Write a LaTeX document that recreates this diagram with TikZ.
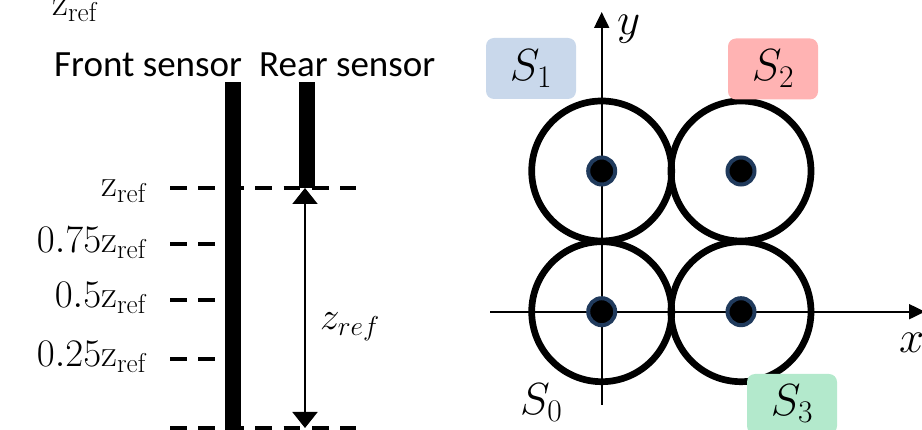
\RequirePackage{fix-cm}
\documentclass[tikz,border=0pt]{standalone}
\usepackage{fontspec}
\newfontfamily\calib{Carlito}
\usetikzlibrary{arrows.meta}
\definecolor{navy}{HTML}{203A5C}
\definecolor{sblue}{HTML}{C9D8EB}
\definecolor{sred}{HTML}{FFB3B3}
\definecolor{sgreen}{HTML}{B3E9CC}
\tikzset{
  lab/.style={font=\fontsize{39}{44}\selectfont, inner sep=0pt, anchor=base east},
  senslab/.style={font=\calib\fontsize{37}{42}\selectfont, inner sep=0pt, anchor=base west},
  biglab/.style={font=\fontsize{45}{50}\selectfont, inner sep=0pt},
  dashln/.style={line width=4.5pt, dash pattern=on 16.7pt off 11.7pt},
  axisln/.style={line width=2pt, -{Triangle[width=15pt,length=16pt]}},
  ring/.style={circle, draw=black, line width=6.7pt, minimum size=140pt, inner sep=0pt},
  sdot/.style={circle, fill=black, draw=navy, line width=4pt, minimum size=27pt, inner sep=0pt},
  sbox/.style={rounded corners=8pt, minimum width=90pt, minimum height=61pt, inner sep=0pt, font=\fontsize{45}{50}\selectfont},
  bar/.style={fill=black}
}
\begin{document}
\begin{tikzpicture}[x=1pt,y=-1pt]
\useasboundingbox (0,0) rectangle (922,430);
% left part: labels
\node[lab, anchor=base west] (ztop) at (52,16) {$\mathrm{z}_{\mathrm{ref}}$};
\node[senslab] (front) at (54,77) {Front sensor};
\node[senslab] (rear) at (259,77) {Rear sensor};
% bars
\fill[bar] (225,82) rectangle (241,434);
\fill[bar] (299,82) rectangle (315,188);
% dashed levels
\coordinate (d1a) at (170,188); \coordinate (d1b) at (356,188);
\coordinate (d2a) at (170,244); \coordinate (d2b) at (216,244);
\coordinate (d3a) at (170,300); \coordinate (d3b) at (216,300);
\coordinate (d4a) at (170,359); \coordinate (d4b) at (216,359);
\coordinate (d5a) at (170,428); \coordinate (d5b) at (356,428);
\draw[dashln] (d1a) -- (d1b);
\draw[dashln] (d2a) -- (d2b);
\draw[dashln] (d3a) -- (d3b);
\draw[dashln] (d4a) -- (d4b);
\draw[dashln] (d5a) -- (d5b);
\node[lab] (l1) at (146,197) {$\mathrm{z}_{\mathrm{ref}}$};
\node[lab] (l75) at (146,253) {$0.75\mathrm{z}_{\mathrm{ref}}$};
\node[lab] (l5) at (146,308) {$0.5\mathrm{z}_{\mathrm{ref}}$};
\node[lab] (l25) at (146,367) {$0.25\mathrm{z}_{\mathrm{ref}}$};
% measure arrow
\coordinate (atop) at (305,188);
\coordinate (abot) at (305,428);
\draw[line width=2pt, {Triangle[width=25pt,length=16pt]}-{Triangle[width=25pt,length=16pt]}] (atop) -- (abot);
\node[lab, anchor=base west] (zlab) at (320,330) {$z_{ref}$};
% right part: axes
\coordinate (yb) at (601.7,405); \coordinate (yt) at (601.7,12);
\coordinate (xl) at (490,311.7); \coordinate (xr) at (925,311.7);
\draw[axisln] (yb) -- (yt);
\draw[axisln] (xl) -- (xr);
\node[biglab, anchor=base west] (ylab) at (617,35) {$y$};
\node[biglab, anchor=base west] (xlab) at (899,353) {$x$};
% circles
\node[ring] (c0) at (601.7,311.7) {};
\node[ring] (c1) at (601.7,171) {};
\node[ring] (c2) at (741,171) {};
\node[ring] (c3) at (741,311.7) {};
\node[sdot] (p0) at (601.7,311.7) {};
\node[sdot] (p1) at (601.7,171) {};
\node[sdot] (p2) at (741,171) {};
\node[sdot] (p3) at (741,311.7) {};
% labels
\node[sbox, fill=sblue] (s1) at (531,68.5) {$S_1$};
\node[sbox, fill=sred] (s2) at (773,69) {$S_2$};
\node[sbox, fill=sgreen, minimum height=60pt] (s3) at (792,404) {$S_3$};
\node[biglab, anchor=base west] (s0) at (520,415) {$S_0$};
\end{tikzpicture}
\end{document}
